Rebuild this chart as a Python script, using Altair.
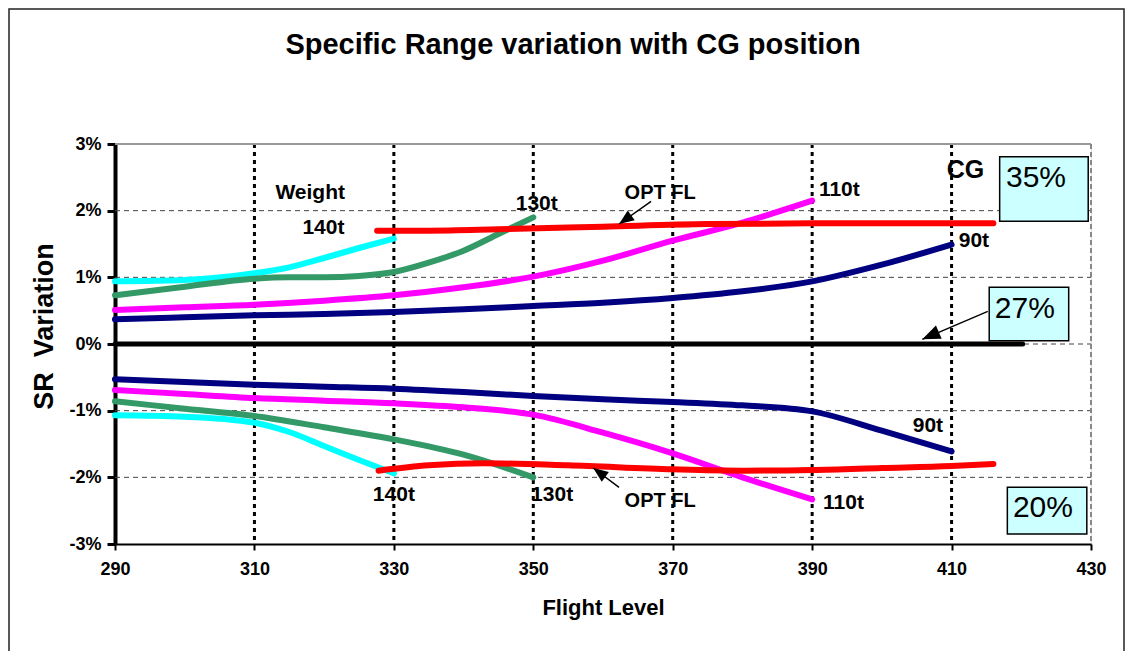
import altair as alt
import pandas as pd

FONT = "Liberation Sans, Arial, Helvetica, sans-serif"

# ---- series values (Flight level -> SR variation in %) ----
fl_140_up = [290, 300, 310, 315, 320, 325, 330]
sr_140_up = [0.94, 0.96, 1.06, 1.15, 1.29, 1.44, 1.58]
fl_130_up = [290, 300, 310, 315, 320, 325, 330, 335, 340, 345, 350]
sr_130_up = [0.73, 0.86, 0.98, 1.00, 1.00, 1.02, 1.08, 1.22, 1.40, 1.65, 1.90]
fl_110_up = [290, 300, 310, 320, 330, 340, 350, 360, 370, 380, 390]
sr_110_up = [0.51, 0.55, 0.59, 0.65, 0.73, 0.85, 1.01, 1.25, 1.55, 1.82, 2.15]
fl_90_up = [290, 300, 310, 320, 330, 340, 350, 360, 370, 380, 390, 400, 410]
sr_90_up = [0.37, 0.40, 0.43, 0.45, 0.48, 0.52, 0.57, 0.62, 0.69, 0.79, 0.94, 1.19, 1.49]
fl_opt_up = [327.6, 335, 345, 360, 375, 390, 405, 416]
sr_opt_up = [1.70, 1.70, 1.72, 1.76, 1.80, 1.81, 1.81, 1.81]

fl_140_lo = [290, 300, 310, 315, 320, 325, 330]
sr_140_lo = [-1.07, -1.09, -1.18, -1.32, -1.53, -1.74, -1.94]
fl_130_lo = [290, 300, 310, 320, 330, 340, 350]
sr_130_lo = [-0.86, -0.97, -1.08, -1.25, -1.43, -1.66, -2.00]
fl_110_lo = [290, 300, 310, 320, 330, 340, 350, 360, 370, 380, 390]
sr_110_lo = [-0.69, -0.75, -0.81, -0.85, -0.89, -0.95, -1.06, -1.33, -1.64, -2.00, -2.33]
fl_90_lo = [290, 300, 310, 320, 330, 340, 350, 360, 370, 380, 390, 400, 410]
sr_90_lo = [-0.53, -0.57, -0.61, -0.64, -0.67, -0.72, -0.78, -0.83, -0.87, -0.92, -1.01, -1.30, -1.61]
fl_opt_lo = [327.8, 335, 343, 355, 370, 380, 390, 400, 410, 416]
sr_opt_lo = [-1.90, -1.82, -1.79, -1.82, -1.88, -1.90, -1.89, -1.86, -1.83, -1.80]

fl_ref = [290, 420.2]
sr_ref = [0, 0]

series_names = ["140t", "130t", "110t", "90t", "OPT FL"]
series_colors = ["#00FFFF", "#339966", "#FF00FF", "#000080", "#FF0000"]

x_ticks = [290, 310, 330, 350, 370, 390, 410, 430]
y_ticks = [-3, -2, -1, 0, 1, 2, 3]
v_grid = [310, 330, 350, 370, 390, 410]
h_grid = [-2, -1, 0, 1, 2]

# labels
lab_text = ["Weight", "140t", "130t", "OPT FL", "110t", "CG", "90t",
            "140t", "130t", "OPT FL", "110t", "90t"]
lab_fl = [318.0, 319.9, 350.5, 368.2, 393.9, 412.0, 413.2,
          330.0, 352.7, 368.2, 394.5, 406.6]
lab_sr = [2.26, 1.74, 2.10, 2.26, 2.31, 2.61, 1.54,
          -2.26, -2.26, -2.35, -2.38, -1.23]
lab_size = [21, 21, 21, 20, 21, 25, 21, 21, 21, 20, 21, 21]

# CG boxes
box_text = ["35%", "27%", "20%"]
box_x1 = [416.9, 415.4, 418.0]
box_x2 = [429.6, 426.8, 429.4]
box_y1 = [2.81, 0.85, -2.15]
box_y2 = [1.84, 0.05, -2.85]
box_tx = [417.8, 416.2, 418.8]
box_ty = [2.35, 0.39, -2.59]

# arrows (start -> tip)
arr_x1 = [415.2, 366.9, 362.3]
arr_y1 = [0.49, 2.14, -2.15]
arr_x2 = [405.8, 362.3, 358.6]
arr_y2 = [0.07, 1.80, -1.86]
arr_angle = [246.6, 234.4, 306.4]
arr_size = [1296, 900, 900]

W, H = 976, 400
xs = alt.Scale(domain=[290, 430], nice=False, zero=False)
ys = alt.Scale(domain=[-3, 3], nice=False, zero=False)

rows = []
for name, part, fl, sr in [
    ("140t", "up", fl_140_up, sr_140_up), ("130t", "up", fl_130_up, sr_130_up),
    ("110t", "up", fl_110_up, sr_110_up), ("90t", "up", fl_90_up, sr_90_up),
    ("OPT FL", "up", fl_opt_up, sr_opt_up),
    ("140t", "lo", fl_140_lo, sr_140_lo), ("130t", "lo", fl_130_lo, sr_130_lo),
    ("110t", "lo", fl_110_lo, sr_110_lo), ("90t", "lo", fl_90_lo, sr_90_lo),
    ("OPT FL", "lo", fl_opt_lo, sr_opt_lo),
]:
    for f, s in zip(fl, sr):
        rows.append({"w": name, "part": name + part, "fl": f, "sr": s})
lines_df = pd.DataFrame(rows)

# ---- frame around the whole picture ----
frame = alt.Chart(pd.DataFrame({"a": [0]})).mark_rect(
    fill=None, stroke="#222222", strokeWidth=1.5
).encode(x=alt.value(-106), x2=alt.value(1009), y=alt.value(-135), y2=alt.value(600))

# ---- gridlines ----
vgrid = alt.Chart(pd.DataFrame({"fl": v_grid})).mark_rule(
    color="black", strokeWidth=3, strokeDash=[4, 4]
).encode(x=alt.X("fl:Q", scale=xs), y=alt.value(0), y2=alt.value(H))

hgrid = alt.Chart(pd.DataFrame({"sr": h_grid})).mark_rule(
    color="#444444", strokeWidth=1, strokeDash=[5, 4]
).encode(y=alt.Y("sr:Q", scale=ys), x=alt.value(0), x2=alt.value(W))

top_line = alt.Chart(pd.DataFrame({"sr": [3]})).mark_rule(
    color="#999999", strokeWidth=2
).encode(y=alt.Y("sr:Q", scale=ys), x=alt.value(0), x2=alt.value(W))

right_line = alt.Chart(pd.DataFrame({"fl": [430]})).mark_rule(
    color="#888888", strokeWidth=2, strokeDash=[5, 3]
).encode(x=alt.X("fl:Q", scale=xs), y=alt.value(0), y2=alt.value(H))

# ---- base with axes ----
axes = alt.Chart(pd.DataFrame({"fl": [290], "sr": [0]})).mark_point(opacity=0).encode(
    x=alt.X("fl:Q", scale=xs, axis=alt.Axis(
        values=x_ticks, title="Flight Level", grid=False, domainColor="black",
        domainWidth=2, tickColor="black", tickWidth=2, tickSize=6,
        labelFont=FONT, labelFontSize=18, labelFontWeight="bold", labelColor="black",
        labelPadding=10, titleFont=FONT, titleFontSize=22, titleFontWeight="bold",
        titleColor="black", titleX=488, titleY=70, titleBaseline="alphabetic",
        labelFlush=False)),
    y=alt.Y("sr:Q", scale=ys, axis=alt.Axis(
        values=y_ticks, title="SR\u00a0 Variation", grid=False, domainColor="black",
        domainWidth=4, tickColor="black", tickWidth=3, tickSize=8,
        labelFont=FONT, labelFontSize=18, labelFontWeight="bold", labelColor="black",
        labelPadding=6, labelExpr="datum.value + '%'", titleFont=FONT,
        titleFontSize=27, titleFontWeight="bold", titleColor="black",
        titleX=-71, titleY=182, titleBaseline="middle", labelFlush=False)),
)

# ---- data lines ----
lines = alt.Chart(lines_df).mark_line(
    strokeWidth=6, interpolate="monotone", strokeCap="round"
).encode(
    x=alt.X("fl:Q", scale=xs),
    y=alt.Y("sr:Q", scale=ys),
    color=alt.Color("w:N", scale=alt.Scale(domain=series_names, range=series_colors), legend=None),
    detail="part:N",
    order="fl:Q",
)

ref = alt.Chart(pd.DataFrame({"fl": fl_ref, "sr": sr_ref})).mark_line(
    color="black", strokeWidth=5, strokeCap="round"
).encode(x=alt.X("fl:Q", scale=xs), y=alt.Y("sr:Q", scale=ys))

# ---- labels ----
lab_df = pd.DataFrame({"t": lab_text, "fl": lab_fl, "sr": lab_sr, "s": lab_size})
labels = alt.Chart(lab_df).mark_text(
    font=FONT, fontWeight="bold", color="black", align="center", baseline="middle"
).encode(
    x=alt.X("fl:Q", scale=xs), y=alt.Y("sr:Q", scale=ys), text="t:N",
    size=alt.Size("s:Q", scale=None, legend=None),
)

# ---- arrows ----
arr_df = pd.DataFrame({"x1": arr_x1, "y1": arr_y1, "x2": arr_x2, "y2": arr_y2,
                       "ang": arr_angle, "sz": arr_size})
arr_lines = alt.Chart(arr_df).mark_rule(color="black", strokeWidth=1.5).encode(
    x=alt.X("x1:Q", scale=xs), y=alt.Y("y1:Q", scale=ys),
    x2="x2:Q", y2="y2:Q",
)
arr_heads = alt.Chart(arr_df).mark_point(
    shape="M0,0L0.4,1L-0.4,1Z", filled=True, color="black", opacity=1
).encode(
    x=alt.X("x2:Q", scale=xs), y=alt.Y("y2:Q", scale=ys),
    angle=alt.Angle("ang:Q", scale=None),
    size=alt.Size("sz:Q", scale=None, legend=None),
)

# ---- CG boxes ----
box_df = pd.DataFrame({"t": box_text, "x1": box_x1, "x2": box_x2, "y1": box_y1,
                       "y2": box_y2, "tx": box_tx, "ty": box_ty})
boxes = alt.Chart(box_df).mark_rect(fill="#CCFFFF", stroke="black", strokeWidth=1.5).encode(
    x=alt.X("x1:Q", scale=xs), x2="x2:Q", y=alt.Y("y1:Q", scale=ys), y2="y2:Q",
)
box_txt = alt.Chart(box_df).mark_text(
    font=FONT, fontSize=30, color="black", align="left", baseline="alphabetic"
).encode(x=alt.X("tx:Q", scale=xs), y=alt.Y("ty:Q", scale=ys), text="t:N")

chart = alt.layer(
    frame, vgrid, hgrid, top_line, right_line, axes, lines, ref,
    arr_lines, arr_heads, boxes, box_txt, labels,
).properties(
    width=W, height=H,
    title=alt.TitleParams("Specific Range variation with CG position", font=FONT,
                          fontSize=29, fontWeight="bold", color="black",
                          anchor="middle", frame="group", dx=-30, dy=75, offset=0,
                          baseline="alphabetic"),
    autosize=alt.AutoSizeParams(type="none"),
    padding={"left": 107, "top": 136, "right": 34, "bottom": 107},
).configure_view(stroke=None).configure(background="white")

chart.save("out.html", embed_options={"renderer": "svg", "actions": False})
